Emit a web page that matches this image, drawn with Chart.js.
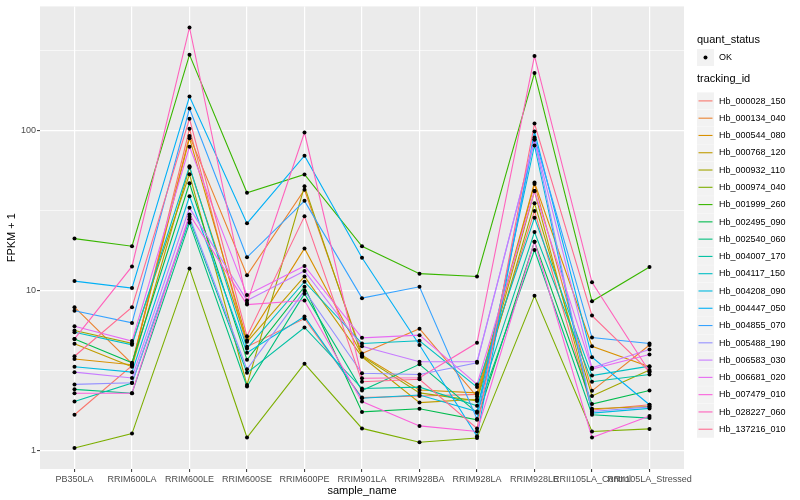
<!DOCTYPE html>
<html>
<head>
<meta charset="utf-8">
<script src="https://cdn.jsdelivr.net/npm/chart.js@4"></script>
<style>
  body { margin: 0; background: #fff; }
  canvas { display: block; }
</style>
</head>
<body>
<canvas id="fpkmChart" width="800" height="500"></canvas>
<script>
/* FPKM + 1 per sample, one line per tracking_id (ggplot look). */

const categories = ["PB350LA", "RRIM600LA", "RRIM600LE", "RRIM600SE", "RRIM600PE", "RRIM901LA",
  "RRIM928BA", "RRIM928LA", "RRIM928LE", "RRII105LA_Control", "RRII105LA_Stressed"];

const trackingIds = ["Hb_000028_150", "Hb_000134_040", "Hb_000544_080", "Hb_000768_120", "Hb_000932_110",
  "Hb_000974_040", "Hb_001999_260", "Hb_002495_090", "Hb_002540_060", "Hb_004007_170",
  "Hb_004117_150", "Hb_004208_090", "Hb_004447_050", "Hb_004855_070", "Hb_005488_190",
  "Hb_006583_030", "Hb_006681_020", "Hb_007479_010", "Hb_028227_060", "Hb_137216_010"];

const seriesColors = ["#F8766D", "#EA8331", "#D89000", "#C09B00", "#A3A500", "#7CAE00", "#39B600", "#00BB4E",
  "#00BF7D", "#00C1A3", "#00BFC4", "#00BAE0", "#00B0F6", "#35A2FF", "#9590FF", "#C77CFF",
  "#E76BF3", "#FA62DB", "#FF62BC", "#FF6C91"];

const hb000028_150 = [1.68, 3.4, 103, 4.47, 6.7, 2.15, 2.2, 2.25, 31.6, 1.8, 1.94];
const hb000134_040 = [7.9, 3.5, 93, 12.5, 42.8, 4.06, 5.8, 2.18, 46.5, 2.37, 4.58];
const hb000544_080 = [3.75, 3.45, 90, 4.9, 18.4, 3.96, 2.4, 2.3, 47.5, 4.5, 3.35];
const hb000768_120 = [4.66, 3.35, 59, 4.8, 12.3, 3.87, 2.0, 2.1, 42, 1.83, 1.89];
const hb000932_110 = [5.65, 4.7, 53.5, 2.58, 45, 3.9, 2.3, 2.05, 35.3, 2.2, 3.2];
const hb000974_040 = [1.04, 1.28, 13.8, 1.21, 3.5, 1.38, 1.13, 1.2, 9.3, 1.32, 1.37];
const hb001999_260 = [21.2, 19, 299, 41, 53.4, 19, 12.8, 12.3, 230, 8.6, 14.1];
const hb002495_090 = [5.0, 3.55, 47, 3.7, 10.6, 1.75, 1.83, 1.56, 20.3, 1.96, 2.38];
const hb002540_060 = [2.42, 2.29, 26.6, 2.52, 9.6, 2.38, 3.47, 1.73, 18.0, 1.68, 1.6];
const hb004007_170 = [2.03, 2.65, 28, 3.07, 5.9, 2.45, 2.5, 1.91, 23.3, 2.7, 3.0];
const hb004117_150 = [5.5, 4.6, 60, 4.36, 11.4, 4.68, 4.87, 2.5, 28.6, 2.95, 3.38];
const hb004208_090 = [3.35, 3.1, 39, 4.1, 6.9, 2.13, 2.23, 1.76, 81, 1.72, 1.84];
const hb004447_050 = [11.5, 10.4, 164, 26.4, 70, 16.1, 4.58, 1.23, 99, 3.84, 1.94];
const hb004855_070 = [7.5, 6.3, 138, 16.2, 36.5, 9.0, 10.6, 1.58, 91, 5.1, 4.68];
const hb005488_190 = [2.6, 2.66, 29, 3.23, 10.0, 3.05, 3.0, 3.55, 88, 1.76, 1.88];
const hb006583_030 = [3.1, 2.85, 33, 8.7, 13.3, 4.5, 3.6, 3.6, 88.6, 3.3, 4.3];
const hb006681_020 = [6.0, 4.85, 79.5, 9.4, 14.3, 5.08, 5.28, 2.6, 42, 3.24, 4.0];
const hb007479_010 = [2.29, 2.29, 30, 8.2, 8.7, 2.03, 1.43, 1.32, 20.3, 1.21, 1.65];
const hb028227_060 = [5.0, 14.2, 443, 8.4, 97.5, 2.84, 2.86, 4.73, 294, 11.3, 3.12];
const hb137216_010 = [3.9, 7.9, 119, 5.2, 29.2, 2.7, 2.8, 1.38, 111, 7.0, 3.12];

const seriesValues = [hb000028_150, hb000134_040, hb000544_080, hb000768_120, hb000932_110,
  hb000974_040, hb001999_260, hb002495_090, hb002540_060, hb004007_170,
  hb004117_150, hb004208_090, hb004447_050, hb004855_070, hb005488_190,
  hb006583_030, hb006681_020, hb007479_010, hb028227_060, hb137216_010];

const yMajorTicks = [1, 10, 100];
const yMinorTicks = [3.1623, 31.623, 316.23];

const FONT = '"Liberation Sans", Arial, sans-serif';

const lineDatasets = seriesValues.map((vals, i) => ({
  label: trackingIds[i],
  data: vals.map((v, j) => ({ x: j, y: v })),
  borderColor: seriesColors[i],
  backgroundColor: seriesColors[i],
  borderWidth: 1.1,
  pointRadius: 0,
  tension: 0,
  order: 20 - i,
}));

// black dots on every value (quant_status = OK)
const pointDataset = {
  label: "OK",
  data: seriesValues.flatMap((vals) => vals.map((v, j) => ({ x: j, y: v }))),
  showLine: false,
  pointRadius: 2,
  pointBackgroundColor: "#000",
  pointBorderWidth: 0,
  order: 0,
};

const panelBackground = {
  id: "panelBackground",
  beforeDraw(chart) {
    const { ctx, chartArea: a } = chart;
    ctx.save();
    ctx.fillStyle = "#fff";
    ctx.fillRect(0, 0, chart.width, chart.height);
    ctx.fillStyle = "#EBEBEB";
    ctx.fillRect(a.left, a.top, a.right - a.left, a.bottom - a.top);
    ctx.restore();
  },
};

const ggLegend = {
  id: "ggLegend",
  afterDraw(chart) {
    const ctx = chart.ctx;
    const x0 = 697;
    ctx.save();
    ctx.textBaseline = "middle";
    ctx.textAlign = "left";
    ctx.fillStyle = "#000";
    ctx.font = "11px " + FONT;
    ctx.fillText("quant_status", x0, 40);
    ctx.fillStyle = "#F2F2F2";
    ctx.fillRect(x0, 49, 17, 17);
    ctx.fillStyle = "#000";
    ctx.beginPath();
    ctx.arc(x0 + 8.5, 57.5, 2, 0, Math.PI * 2);
    ctx.fill();
    ctx.font = "9px " + FONT;
    ctx.fillText("OK", 719, 57.5);
    ctx.font = "11px " + FONT;
    ctx.fillText("tracking_id", x0, 79);
    ctx.font = "9px " + FONT;
    trackingIds.forEach((id, i) => {
      const y = 92.4 + i * 17.28;
      ctx.fillStyle = "#F2F2F2";
      ctx.fillRect(x0, y, 17, 17);
      ctx.strokeStyle = seriesColors[i];
      ctx.lineWidth = 1.1;
      ctx.beginPath();
      ctx.moveTo(x0 + 1.5, y + 8.5);
      ctx.lineTo(x0 + 15.5, y + 8.5);
      ctx.stroke();
      ctx.fillStyle = "#000";
      ctx.fillText(id, 719, y + 8.7);
    });
    ctx.restore();
  },
};

new Chart(document.getElementById("fpkmChart"), {
  type: "line",
  data: { datasets: [...lineDatasets, pointDataset] },
  plugins: [panelBackground, ggLegend],
  options: {
    responsive: false,
    animation: false,
    events: [],
    layout: { padding: { top: 5, right: 116, left: 0, bottom: 0 } },
    plugins: { legend: { display: false }, tooltip: { enabled: false } },
    scales: {
      x: {
        type: "linear",
        min: -0.6,
        max: 10.6,
        afterBuildTicks: (scale) => { scale.ticks = categories.map((_, i) => ({ value: i })); },
        afterFit: (scale) => { scale.height = 31; },
        ticks: {
          autoSkip: false,
          maxRotation: 0,
          minRotation: 0,
          padding: 2,
          color: "#4D4D4D",
          font: { family: FONT, size: 9 },
          callback: (value) => categories[value] ?? "",
        },
        grid: { color: "#fff", lineWidth: 1.2, tickLength: 3, tickColor: "#333333", tickWidth: 1 },
        border: { display: false },
        title: { display: true, text: "sample_name", color: "#000", font: { family: FONT, size: 11 }, padding: { top: 0, bottom: 2.4 } },
      },
      y: {
        type: "logarithmic",
        min: 0.769,
        max: 600,
        afterBuildTicks: (scale) => {
          scale.ticks = [...yMajorTicks, ...yMinorTicks].sort((a, b) => a - b).map((v) => ({ value: v }));
        },
        afterFit: (scale) => { scale.width = 40; },
        ticks: {
          padding: 1,
          color: "#4D4D4D",
          font: { family: FONT, size: 9 },
          callback: (value) => (yMajorTicks.includes(value) ? String(value) : ""),
        },
        grid: {
          color: "#fff",
          lineWidth: (ctx) => (ctx.tick && yMajorTicks.includes(ctx.tick.value) ? 1.2 : 0.6),
          tickLength: 3,
          tickWidth: 1,
          tickColor: (ctx) => (ctx.tick && yMajorTicks.includes(ctx.tick.value) ? "#333333" : "rgba(0,0,0,0)"),
        },
        border: { display: false },
        title: { display: true, text: "FPKM + 1", color: "#000", font: { family: FONT, size: 11 }, padding: { top: 5.4, bottom: 0 } },
      },
    },
  },
});
</script>
</body>
</html>
